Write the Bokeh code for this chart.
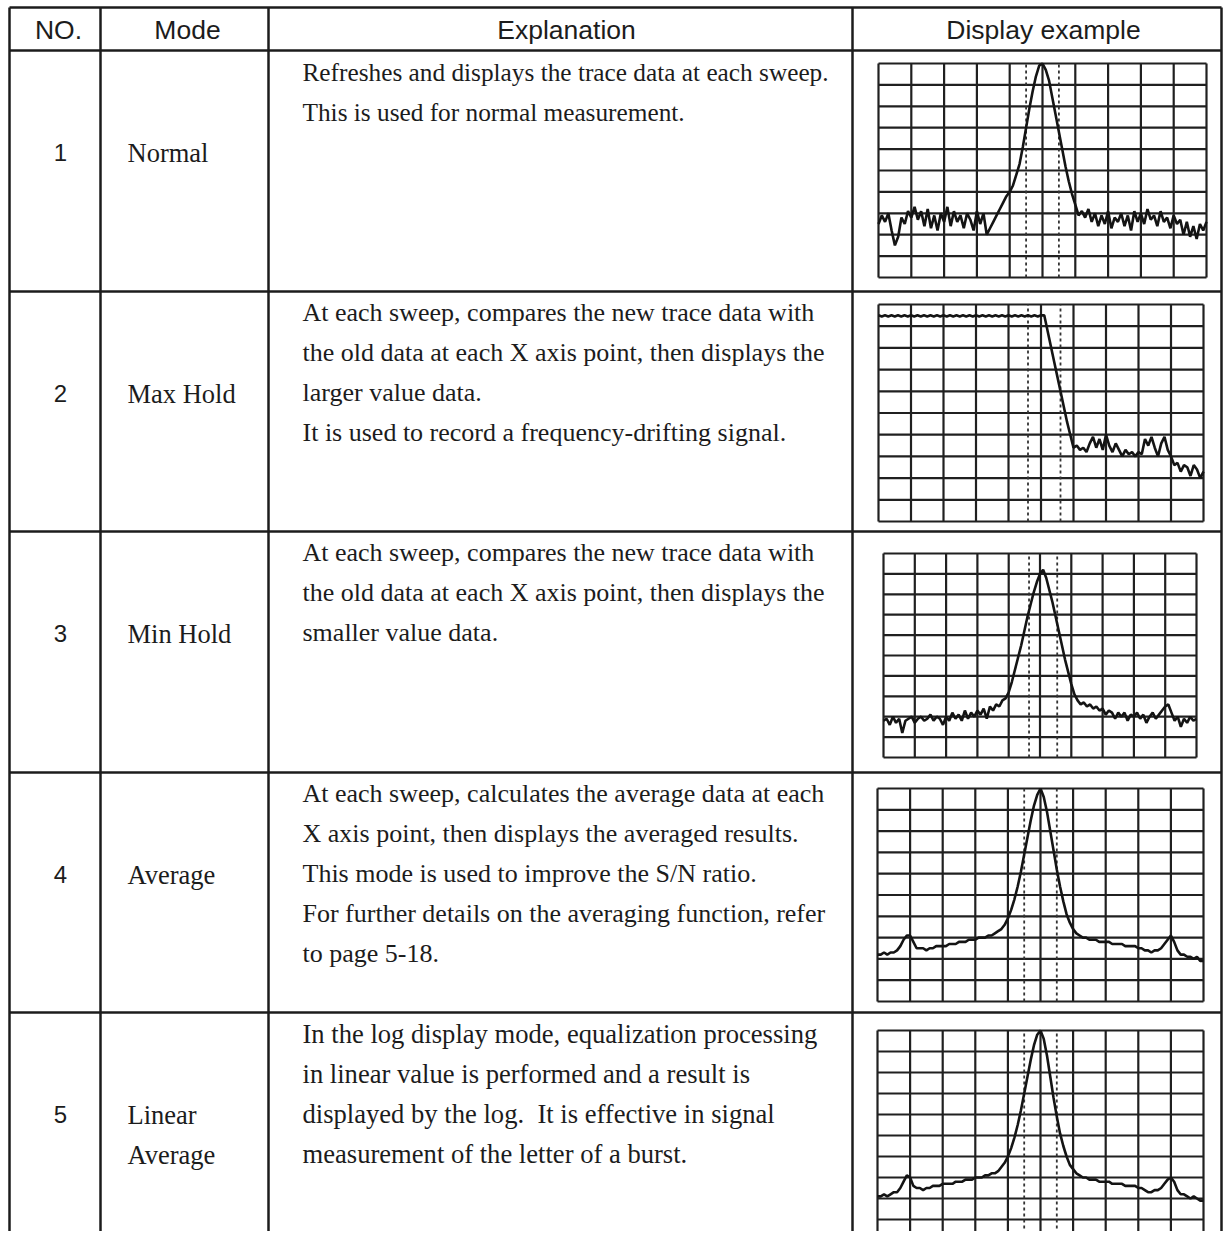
from bokeh.plotting import figure
from bokeh.models import Range1d
from bokeh.core.properties import value
from bokeh.embed import file_html
from bokeh.resources import INLINE

# ---------------- data ----------------
HEADERS = ["NO.", "Mode", "Explanation", "Display example"]
NUMBERS = ["1", "2", "3", "4", "5"]
MODES = [["Normal"], ["Max Hold"], ["Min Hold"], ["Average"], ["Linear", "Average"]]
EXPLANATIONS = [
    ["Refreshes and displays the trace data at each sweep.",
     "This is used for normal measurement."],
    ["At each sweep, compares the new trace data with",
     "the old data at each X axis point, then displays the",
     "larger value data.",
     "It is used to record a frequency-drifting signal."],
    ["At each sweep, compares the new trace data with",
     "the old data at each X axis point, then displays the",
     "smaller value data."],
    ["At each sweep, calculates the average data at each",
     "X axis point, then displays the averaged results.",
     "This mode is used to improve the S/N ratio.",
     "For further details on the averaging function, refer",
     "to page 5-18."],
    ["In the log display mode, equalization processing",
     "in linear value is performed and a result is",
     "displayed by the log.\u00a0 It is effective in signal",
     "measurement of the letter of a burst."],
]

# sweep points 0..100 (10 per horizontal division); level in divisions (0 bottom .. 10 top)
SWEEP_POINTS = list(range(101))

TRACE_NORMAL = [
    2.5, 2.9, 2.6, 3.0, 2.2, 1.5, 1.9, 2.8, 2.5, 3.1,
    2.8, 3.3, 2.7, 3.1, 2.4, 3.2, 2.3, 2.9, 2.2, 3.0,
    2.6, 3.3, 2.4, 3.1, 2.6, 2.9, 2.3, 3.0, 2.7, 2.2,
    3.1, 2.5, 3.0, 2.0, 2.3, 2.6, 2.9, 3.2, 3.5, 3.8,
    4.0, 4.3, 4.8, 5.3, 6.1, 7.0, 7.9, 8.7, 9.4, 9.9,
    10.0, 9.7, 9.2, 8.4, 7.6, 6.8, 6.0, 5.2, 4.5, 3.9,
    3.4, 2.9, 3.1, 2.8, 3.2, 2.6, 3.0, 2.4, 2.9, 2.5,
    3.1, 2.3, 2.8, 2.6, 3.0, 2.4, 2.9, 2.2, 3.1, 2.6,
    3.0, 2.5, 3.2, 2.7, 2.9, 2.4, 3.1, 2.6, 2.8, 2.3,
    2.9, 2.5, 2.7, 2.0, 2.6, 1.9, 2.4, 1.8, 2.5, 2.2,
    2.6]

TRACE_MAXHOLD = [
    9.5, 9.45, 9.5, 9.45, 9.5, 9.45, 9.5, 9.45, 9.5, 9.45,
    9.5, 9.45, 9.5, 9.45, 9.5, 9.45, 9.5, 9.45, 9.5, 9.45,
    9.5, 9.45, 9.5, 9.45, 9.5, 9.45, 9.5, 9.45, 9.5, 9.45,
    9.5, 9.45, 9.5, 9.45, 9.5, 9.45, 9.5, 9.45, 9.5, 9.45,
    9.5, 9.45, 9.5, 9.45, 9.5, 9.45, 9.5, 9.45, 9.5, 9.45,
    9.5, 9.5, 8.8, 8.1, 7.4, 6.7, 6.0, 5.3, 4.6, 4.0,
    3.4, 3.5, 3.3, 3.4, 3.2, 3.6, 3.9, 3.4, 3.8, 3.3,
    4.0, 3.5, 3.2, 3.6, 3.3, 3.0, 3.3, 3.1, 3.2, 3.0,
    3.2, 3.1, 3.8, 3.5, 3.9, 3.4, 3.0, 3.6, 3.9, 3.3,
    3.0, 2.6, 2.7, 2.3, 2.6, 2.5, 2.1, 2.6, 2.4, 2.0,
    2.3]

TRACE_MINHOLD = [
    1.8, 1.9, 1.6, 2.0, 1.7, 1.9, 1.2, 1.8, 1.9, 2.0,
    1.7, 1.9, 2.0, 1.8, 1.9, 2.1, 1.8, 2.0, 1.9, 1.6,
    2.0, 1.8, 2.2, 1.9, 2.1, 1.8, 2.3, 1.9, 2.2, 2.0,
    2.3, 2.1, 2.4, 1.9, 2.5, 2.3, 2.6, 2.5, 2.8, 2.9,
    3.2, 3.7, 4.3, 4.9, 5.5, 6.2, 6.9, 7.5, 8.1, 8.6,
    9.0, 9.2, 8.8, 8.2, 7.6, 6.9, 6.2, 5.5, 4.8, 4.2,
    3.6, 3.1, 2.8, 2.6, 2.7, 2.5, 2.6, 2.4, 2.5, 2.3,
    2.4, 2.1, 2.3, 2.2, 1.9, 2.2, 2.0, 2.2, 1.8, 2.1,
    2.0, 2.2, 1.9, 2.1, 1.7, 2.0, 2.2, 1.9, 2.1, 2.3,
    2.5, 2.6, 2.2, 1.8, 2.0, 1.5, 1.9, 1.7, 2.0, 1.8,
    1.9]

TRACE_AVERAGE = [
    2.2, 2.2, 2.3, 2.2, 2.3, 2.3, 2.4, 2.6, 2.9, 3.1,
    3.1, 2.8, 2.5, 2.5, 2.5, 2.4, 2.5, 2.5, 2.6, 2.6,
    2.6, 2.6, 2.7, 2.7, 2.7, 2.8, 2.8, 2.8, 2.9, 2.9,
    2.9, 3.0, 3.0, 3.0, 3.1, 3.1, 3.2, 3.3, 3.4, 3.6,
    3.9, 4.3, 4.8, 5.4, 6.1, 6.9, 7.7, 8.5, 9.2, 9.7,
    10.0, 9.6, 8.9, 8.0, 7.1, 6.2, 5.4, 4.7, 4.1, 3.7,
    3.4, 3.2, 3.1, 3.0, 3.0, 2.9, 2.9, 2.9, 2.8, 2.8,
    2.8, 2.8, 2.7, 2.7, 2.7, 2.7, 2.6, 2.6, 2.6, 2.6,
    2.5, 2.5, 2.4, 2.4, 2.3, 2.4, 2.4, 2.5, 2.7, 2.9,
    3.1, 2.8, 2.4, 2.2, 2.2, 2.1, 2.1, 2.0, 2.1, 1.9,
    1.9]

TRACE_LINEAR_AVERAGE = [
    2.1, 2.1, 2.2, 2.1, 2.2, 2.3, 2.3, 2.5, 2.8, 3.1,
    3.0, 2.6, 2.5, 2.5, 2.4, 2.5, 2.5, 2.6, 2.6, 2.6,
    2.7, 2.7, 2.7, 2.7, 2.8, 2.8, 2.8, 2.9, 2.9, 2.9,
    3.0, 3.0, 3.0, 3.1, 3.1, 3.2, 3.2, 3.3, 3.5, 3.7,
    4.0, 4.4, 4.9, 5.5, 6.2, 7.0, 7.8, 8.6, 9.3, 9.8,
    10.0, 9.6, 8.8, 7.8, 6.8, 5.9, 5.1, 4.5, 4.0, 3.6,
    3.4, 3.2, 3.1, 3.0, 3.0, 2.9, 2.9, 2.9, 2.8, 2.8,
    2.8, 2.8, 2.7, 2.7, 2.7, 2.7, 2.6, 2.6, 2.6, 2.6,
    2.5, 2.5, 2.4, 2.3, 2.3, 2.4, 2.4, 2.5, 2.7, 2.9,
    3.0, 2.8, 2.4, 2.2, 2.2, 2.1, 2.0, 2.1, 2.0, 1.9,
    1.9]

TRACES = [TRACE_NORMAL, TRACE_MAXHOLD, TRACE_MINHOLD, TRACE_AVERAGE, TRACE_LINEAR_AVERAGE]
# dotted marker lines (sweep point positions)
MARKERS = [[45, 55], [46, 56], [46.5, 55.5], [45, 55], [45, 55]]

# ---------------- layout (picture pixels) ----------------
PX0, PX1, PY0, PY1 = 0, 1223, 0, 1231
TABLE_TOP, HEAD_BOTTOM = 7, 50
ROW_TOPS = [50, 291, 531, 772, 1012]
COL_X = [9, 100, 268, 852, 1221]
HEAD_CX = [58, 187, 566, 1043]
NUM_CX = 60
MODE_X = 127
EXPL_X = 302
EXPL_SIZES = ["25.3px", "26px", "26px", "26px", "26.6px"]
SCREENS = [(878, 1206, 63, 277), (878, 1203, 304, 521), (883, 1196, 553, 757),
           (877, 1203, 788, 1001), (877, 1203, 1030, 1240)]
INK = "#1c1c1c"

p = figure(width=PX1 - PX0, height=PY1 - PY0, x_range=Range1d(PX0, PX1),
           y_range=Range1d(PY1, PY0), output_backend="svg", toolbar_location=None,
           x_axis_location=None, y_axis_location=None, min_border=0,
           background_fill_color="white", border_fill_color="white")
p.grid.visible = False
p.outline_line_color = None

# table lines
hy = [TABLE_TOP, HEAD_BOTTOM] + ROW_TOPS[1:]
p.segment(x0=[COL_X[0]] * len(hy), y0=hy, x1=[COL_X[-1]] * len(hy), y1=hy,
          line_color=INK, line_width=2.5)
p.segment(x0=COL_X, y0=[TABLE_TOP] * len(COL_X), x1=COL_X, y1=[PY1] * len(COL_X),
          line_color=INK, line_width=2.5)

# header text
p.text(x=HEAD_CX, y=[29] * 4, text=HEADERS, text_font=value("Liberation Sans"),
       text_font_size=value("26.5px"), text_align="center", text_baseline="middle",
       text_color=INK)

# row text
nx, ny, nt = [], [], []
mx, my, mt = [], [], []
ex, ey, et, es = [], [], [], []
for i, top in enumerate(ROW_TOPS):
    nx.append(NUM_CX); ny.append(top + 102); nt.append(NUMBERS[i])
    for j, m in enumerate(MODES[i]):
        mx.append(MODE_X); my.append(top + 102 + 40 * j); mt.append(m)
    for j, e in enumerate(EXPLANATIONS[i]):
        ex.append(EXPL_X); ey.append(top + 21 + 40 * j); et.append(e); es.append(EXPL_SIZES[i])

p.text(x=nx, y=ny, text=nt, text_font=value("Liberation Sans"), text_font_size=value("24px"),
       text_align="center", text_baseline="middle", text_color=INK)
p.text(x=mx, y=my, text=mt, text_font=value("Liberation Serif"), text_font_size=value("26.5px"),
       text_align="left", text_baseline="middle", text_color=INK)
p.text(x=ex, y=ey, text=et, text_font=value("Liberation Serif"), text_font_size=es,
       text_align="left", text_baseline="middle", text_color=INK)

# screens: each gets its own scales mapping sweep points / divisions onto its box
xr, yr = {}, {}
for i, (L, R, T, B) in enumerate(SCREENS):
    kx = (R - L) / 100.0
    ky = (B - T) / 10.0
    xr[f"sx{i}"] = Range1d((PX0 - L) / kx, (PX1 - L) / kx)
    yr[f"sy{i}"] = Range1d((B - PY1) / ky, (B - PY0) / ky)
p.extra_x_ranges = xr
p.extra_y_ranges = yr

vx = list(range(0, 101, 10))
hl = list(range(0, 11))
for i in range(5):
    kw = dict(x_range_name=f"sx{i}", y_range_name=f"sy{i}")
    p.segment(x0=vx, y0=[0] * len(vx), x1=vx, y1=[10] * len(vx),
              line_color="#202020", line_width=2.2, **kw)
    p.segment(x0=[0] * len(hl), y0=hl, x1=[100] * len(hl), y1=hl,
              line_color="#202020", line_width=2.2, **kw)
    mk = MARKERS[i]
    p.segment(x0=mk, y0=[0, 0], x1=mk, y1=[10, 10], line_color="#333333",
              line_width=1.8, line_dash="3 3", **kw)
    p.line(x=SWEEP_POINTS, y=TRACES[i], line_color="#141414", line_width=2.6, **kw)

open("out.html", "w").write(file_html(p, INLINE))
